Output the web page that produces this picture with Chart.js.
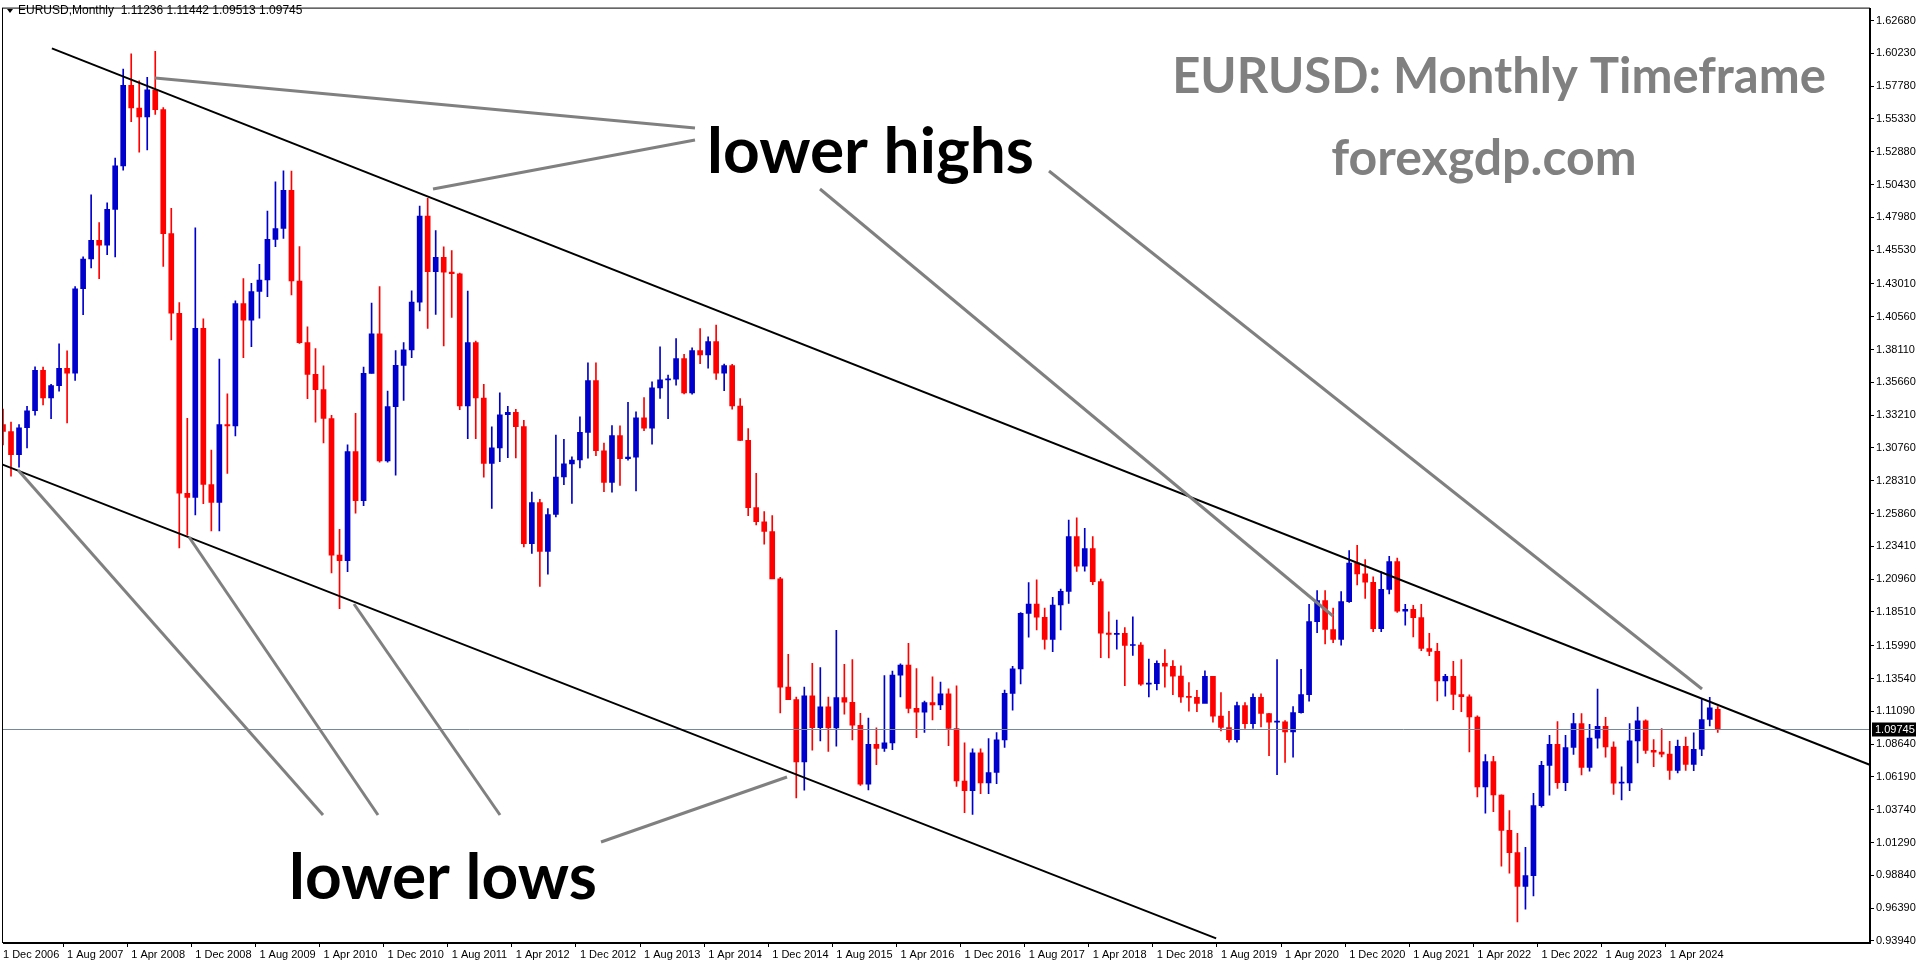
<!DOCTYPE html>
<html>
<head>
<meta charset="utf-8">
<script src="https://cdn.jsdelivr.net/npm/chart.js@4.4.1/dist/chart.umd.min.js"></script>
<style>
  html, body { margin: 0; padding: 0; background: #fff; }
  #wrap { width: 1916px; height: 964px; position: relative; }
</style>
</head>
<body>
<div id="wrap"><canvas id="chart"></canvas></div>
<script>
// monthly candles, 1 Dec 2006 .. 1 Oct 2024
const opens = [
  1.3250,
  1.3199,1.3025,1.3227,1.3354,1.3656,1.3449,1.3542,1.3670,1.3634,1.4265,1.4487,1.4627,
  1.4590,1.4858,1.5183,1.5784,1.5615,1.5548,1.5750,1.5603,1.4676,1.4082,1.2738,1.2707,
  1.3970,1.2803,1.2669,1.3250,1.3240,1.4155,1.4030,1.4244,1.4330,1.4634,1.4715,1.5000,
  1.4323,1.3862,1.3625,1.3512,1.3296,1.2276,1.2235,1.3048,1.2682,1.3633,1.3928,1.2980,
  1.3384,1.3693,1.3808,1.4165,1.4807,1.4393,1.4500,1.4389,1.4377,1.3389,1.3863,1.3449,
  1.2960,1.3077,1.3324,1.3342,1.3235,1.2361,1.2668,1.2304,1.2579,1.2859,1.2957,1.2986,
  1.3192,1.3579,1.3055,1.2818,1.3168,1.2996,1.3008,1.3301,1.3223,1.3525,1.3584,1.3590,
  1.3743,1.3487,1.3803,1.3770,1.3870,1.3635,1.3692,1.3389,1.3132,1.2630,1.2525,1.2452,
  1.2098,1.1290,1.1196,1.0731,1.1224,1.0987,1.1143,1.0985,1.1211,1.1177,1.1005,1.0565,
  1.0863,1.0832,1.0873,1.1380,1.1454,1.1131,1.1103,1.1174,1.1157,1.1240,1.0981,1.0589,
  1.0517,1.0799,1.0575,1.0652,1.0896,1.1243,1.1426,1.1841,1.1910,1.1812,1.1646,1.1903,
  1.2005,1.2414,1.2193,1.2324,1.2078,1.1693,1.1684,1.1691,1.1601,1.1604,1.1312,1.1316,
  1.1467,1.1446,1.1372,1.1217,1.1213,1.1168,1.1370,1.1073,1.0988,1.0897,1.1152,1.1017,
  1.1213,1.1093,1.1028,1.1030,1.0955,1.1100,1.1234,1.1779,1.1936,1.1720,1.1647,1.1928,
  1.2216,1.2136,1.2073,1.1727,1.2020,1.2227,1.1858,1.1870,1.1809,1.1578,1.1557,1.1337,
  1.1370,1.1235,1.1218,1.1067,1.0545,1.0733,1.0484,1.0220,1.0054,0.9802,0.9882,1.0405,
  1.0705,1.0863,1.0576,1.0839,1.1018,1.0690,1.0909,1.0998,1.0843,1.0573,1.0575,1.0888,
  1.1039,1.0818,1.0805,1.0790,1.0667,1.0848,1.0713,1.0826,1.1048,1.1124
];
const highs = [
  1.3367,
  1.3270,1.3250,1.3387,1.3682,1.3680,1.3551,1.3853,1.3802,1.4282,1.4504,1.4967,1.4759,
  1.4907,1.5240,1.5905,1.6019,1.5818,1.5843,1.6038,1.5618,1.4866,1.4162,1.3298,1.4720,
  1.4040,1.3060,1.3739,1.3480,1.4175,1.4340,1.4306,1.4447,1.4844,1.5063,1.5145,1.5144,
  1.4580,1.3980,1.3818,1.3690,1.3320,1.2468,1.3100,1.3335,1.3680,1.4157,1.4282,1.3500,
  1.3803,1.3862,1.4249,1.4882,1.4940,1.4700,1.4578,1.4550,1.4381,1.4248,1.3874,1.3551,
  1.3234,1.3487,1.3386,1.3364,1.3283,1.2747,1.2692,1.2624,1.3172,1.3140,1.3010,1.3308,
  1.3711,1.3711,1.3113,1.3243,1.3242,1.3416,1.3346,1.3452,1.3569,1.3832,1.3620,1.3893,
  1.3775,1.3824,1.3967,1.3906,1.3993,1.3703,1.3700,1.3444,1.3220,1.2887,1.2600,1.2570,
  1.2110,1.1534,1.1216,1.1290,1.1467,1.1436,1.1216,1.1714,1.1460,1.1495,1.1094,1.1059,
  1.0985,1.1376,1.1410,1.1464,1.1616,1.1428,1.1186,1.1366,1.1327,1.1278,1.1299,1.0874,
  1.0829,1.0829,1.0906,1.0950,1.1268,1.1445,1.1846,1.2070,1.2092,1.1880,1.1961,1.2022,
  1.2537,1.2555,1.2476,1.2414,1.2097,1.1852,1.1791,1.1734,1.1815,1.1622,1.1500,1.1486,
  1.1570,1.1489,1.1448,1.1324,1.1265,1.1412,1.1370,1.1250,1.1110,1.1179,1.1175,1.1240,
  1.1239,1.1095,1.1495,1.1040,1.1145,1.1422,1.1909,1.2011,1.2011,1.1881,1.2003,1.2310,
  1.2349,1.2243,1.2113,1.2150,1.2266,1.2254,1.1909,1.1900,1.1909,1.1692,1.1616,1.1386,
  1.1482,1.1495,1.1233,1.1076,1.0787,1.0773,1.0486,1.0368,1.0198,1.0094,1.0497,1.0736,
  1.0929,1.1033,1.0930,1.1095,1.1092,1.1012,1.1276,1.1065,1.0882,1.0695,1.1017,1.1140,
  1.1046,1.0898,1.0981,1.0885,1.0895,1.0916,1.0948,1.1202,1.1214,1.1144
];
const lows = [
  1.3099,
  1.2866,1.2932,1.3076,1.3320,1.3398,1.3294,1.3500,1.3262,1.3580,1.4072,1.4420,1.4340,
  1.4520,1.4502,1.5150,1.5512,1.5285,1.5302,1.5567,1.4432,1.3883,1.2329,1.2424,1.2575,
  1.2660,1.2456,1.2456,1.2885,1.3165,1.3750,1.3833,1.4046,1.4205,1.4580,1.4640,1.4219,
  1.3857,1.3444,1.3268,1.3113,1.2143,1.1876,1.2152,1.2588,1.2645,1.3635,1.2969,1.2970,
  1.2873,1.3430,1.3750,1.4100,1.3968,1.4073,1.3838,1.4050,1.3362,1.3146,1.3146,1.2858,
  1.2624,1.2974,1.3003,1.3002,1.2336,1.2288,1.2042,1.2134,1.2561,1.2802,1.2661,1.2927,
  1.3000,1.3019,1.2750,1.2745,1.2796,1.2984,1.2755,1.3205,1.3105,1.3445,1.3295,1.3545,
  1.3479,1.3477,1.3705,1.3672,1.3588,1.3503,1.3366,1.3130,1.2571,1.2501,1.2358,1.2101,
  1.1098,1.1262,1.0462,1.0520,1.0819,1.0889,1.0809,1.0848,1.1087,1.0896,1.0556,1.0523,
  1.0711,1.0809,1.0822,1.1216,1.1098,1.0912,1.0952,1.1045,1.1122,1.0852,1.0548,1.0352,
  1.0340,1.0494,1.0494,1.0569,1.0839,1.1118,1.1313,1.1662,1.1717,1.1574,1.1554,1.1717,
  1.1915,1.2153,1.2155,1.2055,1.1510,1.1508,1.1573,1.1301,1.1526,1.1302,1.1216,1.1269,
  1.1289,1.1234,1.1176,1.1110,1.1107,1.1181,1.1028,1.0963,1.0879,1.0879,1.0981,1.0982,
  1.0992,1.0778,1.0636,1.0727,1.0767,1.1096,1.1185,1.1696,1.1612,1.1622,1.1603,1.1923,
  1.2054,1.1952,1.1704,1.1704,1.1986,1.1847,1.1752,1.1664,1.1563,1.1524,1.1186,1.1222,
  1.1121,1.1106,1.0806,1.0470,1.0349,1.0359,0.9952,0.9901,0.9536,0.9632,0.9730,1.0393,
  1.0483,1.0533,1.0516,1.0788,1.0635,1.0662,1.0834,1.0766,1.0488,1.0448,1.0517,1.0723,
  1.0795,1.0695,1.0768,1.0601,1.0650,1.0668,1.0666,1.0778,1.1001,1.0951
];
const closes = [
  1.3199,
  1.3025,1.3227,1.3354,1.3656,1.3449,1.3542,1.3670,1.3634,1.4265,1.4487,1.4627,1.4590,
  1.4858,1.5183,1.5784,1.5615,1.5548,1.5750,1.5603,1.4676,1.4082,1.2738,1.2707,1.3970,
  1.2803,1.2669,1.3250,1.3240,1.4155,1.4030,1.4244,1.4330,1.4634,1.4715,1.5000,1.4323,
  1.3862,1.3625,1.3512,1.3296,1.2276,1.2235,1.3048,1.2682,1.3633,1.3928,1.2980,1.3384,
  1.3693,1.3808,1.4165,1.4807,1.4393,1.4500,1.4389,1.4377,1.3389,1.3863,1.3449,1.2960,
  1.3077,1.3324,1.3342,1.3235,1.2361,1.2668,1.2304,1.2579,1.2859,1.2957,1.2986,1.3192,
  1.3579,1.3055,1.2818,1.3168,1.2996,1.3008,1.3301,1.3223,1.3525,1.3584,1.3590,1.3743,
  1.3487,1.3803,1.3770,1.3870,1.3635,1.3692,1.3389,1.3132,1.2630,1.2525,1.2452,1.2098,
  1.1290,1.1196,1.0731,1.1224,1.0987,1.1143,1.0985,1.1211,1.1177,1.1005,1.0565,1.0863,
  1.0832,1.0873,1.1380,1.1454,1.1131,1.1103,1.1174,1.1157,1.1240,1.0981,1.0589,1.0517,
  1.0799,1.0575,1.0652,1.0896,1.1243,1.1426,1.1841,1.1910,1.1812,1.1646,1.1903,1.2005,
  1.2414,1.2193,1.2324,1.2078,1.1693,1.1684,1.1691,1.1601,1.1604,1.1312,1.1316,1.1467,
  1.1446,1.1372,1.1217,1.1213,1.1168,1.1370,1.1073,1.0988,1.0897,1.1152,1.1017,1.1213,
  1.1093,1.1028,1.1030,1.0955,1.1100,1.1234,1.1779,1.1936,1.1720,1.1647,1.1928,1.2216,
  1.2136,1.2073,1.1727,1.2020,1.2227,1.1858,1.1870,1.1809,1.1578,1.1557,1.1337,1.1370,
  1.1235,1.1218,1.1067,1.0545,1.0733,1.0484,1.0220,1.0054,0.9802,0.9882,1.0405,1.0705,
  1.0863,1.0576,1.0839,1.1018,1.0690,1.0909,1.0998,1.0843,1.0573,1.0575,1.0888,1.1039,
  1.0818,1.0805,1.0790,1.0667,1.0848,1.0713,1.0826,1.1048,1.1135,1.0975
];

const yTicks = [1.62680,1.60230,1.57780,1.55330,1.52880,1.50430,1.47980,1.45530,1.43010,1.40560,
  1.38110,1.35660,1.33210,1.30760,1.28310,1.25860,1.23410,1.20960,1.18510,1.15990,1.13540,
  1.11090,1.08640,1.06190,1.03740,1.01290,0.98840,0.96390,0.93940];
const lastPrice = 1.09745;

// trend lines as [index, price] pairs
const upperLine = [[6.1, 1.606], [233.4, 1.070]];
const lowerLine = [[-0.4, 1.296], [151.4, 0.9414]];

const totalSlots = 234;
const monthNames = ["Jan","Feb","Mar","Apr","May","Jun","Jul","Aug","Sep","Oct","Nov","Dec"];
const labels = [];
for (let i = 0; i < totalSlots; i++) {
  const m = (11 + i) % 12;
  const y = 2006 + Math.floor((11 + i) / 12);
  labels.push(i < opens.length ? "1 " + monthNames[m] + " " + y : "");
}

const wickData = labels.map((l, i) => i < opens.length ? [lows[i], highs[i]] : null);
const bodyData = labels.map((l, i) => i < opens.length ? [opens[i], closes[i]] : null);
const candleColors = opens.map((o, i) => closes[i] >= o ? "#0000cc" : "#ff0000");

function showTick(i) { return i % 8 === 0 && i <= 208; }

const overlay = {
  id: "overlay",
  afterDatasetsDraw(chart) {
    const ctx = chart.ctx;
    const xs = chart.scales.x, ys = chart.scales.y;
    const a = chart.chartArea;
    const px = (i) => xs.left + (i / (totalSlots - 1)) * (xs.right - xs.left);
    ctx.save();
    ctx.beginPath();
    ctx.rect(a.left, a.top, a.right - a.left, a.bottom - a.top);
    ctx.clip();

    // last price line
    ctx.strokeStyle = "#778899";
    ctx.lineWidth = 1;
    const yp = Math.round(ys.getPixelForValue(lastPrice)) + 0.5;
    ctx.beginPath(); ctx.moveTo(a.left, yp); ctx.lineTo(a.right, yp); ctx.stroke();

    // channel lines
    ctx.strokeStyle = "#000";
    ctx.lineWidth = 2;
    [upperLine, lowerLine].forEach(l => {
      ctx.beginPath();
      ctx.moveTo(px(l[0][0]), ys.getPixelForValue(l[0][1]));
      ctx.lineTo(px(l[1][0]), ys.getPixelForValue(l[1][1]));
      ctx.stroke();
    });

    // pointer lines
    ctx.strokeStyle = "#808080";
    ctx.lineWidth = 3;
    const pointers = [
      [155,78,695,128],[433,189,695,140],[820,189,1333,616],[1049,171,1702,689],
      [18,470,323,815],[189,537,378,815],[354,604,500,815],[601,842,787,777]
    ];
    pointers.forEach(p => {
      ctx.beginPath(); ctx.moveTo(p[0], p[1]); ctx.lineTo(p[2], p[3]); ctx.stroke();
    });
    ctx.restore();

    // big texts
    ctx.save();
    ctx.textBaseline = "middle";
    ctx.textAlign = "left";
    ctx.fillStyle = "#000";
    ctx.font = "bold 64px Lato";
    ctx.fillText("lower highs", 707, 152);
    ctx.fillText("lower lows", 289, 878);
    ctx.fillStyle = "#808080";
    ctx.textAlign = "center";
    ctx.font = "bold 49px Lato";
    ctx.fillText("EURUSD: Monthly Timeframe", 1499, 77);
    ctx.font = "bold 50px Lato";
    ctx.fillText("forexgdp.com", 1484, 159);

    // header
    ctx.textAlign = "left";
    ctx.fillStyle = "#000";
    ctx.font = "12px 'Liberation Sans'";
    ctx.beginPath(); ctx.moveTo(7, 9); ctx.lineTo(13, 9); ctx.lineTo(10, 13); ctx.fill();
    ctx.fillText("EURUSD,Monthly  1.11236 1.11442 1.09513 1.09745", 18, 11);

    // frame
    ctx.strokeStyle = "#000";
    ctx.lineWidth = 1;
    ctx.strokeRect(a.left - 0.5, a.top - 0.5, a.right - a.left, a.bottom - a.top);

    // last price tag
    ctx.font = "11px 'Liberation Sans'";
    ctx.fillStyle = "#000";
    ctx.fillRect(a.right + 2, yp - 7, 44, 14);
    ctx.fillStyle = "#fff";
    ctx.fillText(lastPrice.toFixed(5), a.right + 5, yp);
    ctx.restore();
  }
};

new Chart(document.getElementById("chart"), {
  type: "bar",
  data: {
    labels: labels,
    datasets: [
      {
        data: wickData,
        backgroundColor: candleColors,
        barThickness: 1,
        grouped: false,
        order: 2
      },
      {
        data: bodyData,
        backgroundColor: candleColors,
        barThickness: 5,
        minBarLength: 1,
        grouped: false,
        order: 1
      }
    ]
  },
  options: {
    responsive: true,
    maintainAspectRatio: false,
    animation: false,
    layout: { padding: { top: 3, left: 3, right: 0, bottom: 0 } },
    plugins: { legend: { display: false }, tooltip: { enabled: false } },
    scales: {
      x: {
        offset: false,
        grid: {
          drawOnChartArea: false,
          tickLength: 4,
          color: (c) => showTick(c.index) ? "#000" : "rgba(0,0,0,0)"
        },
        border: { color: "#000" },
        ticks: {
          autoSkip: false,
          maxRotation: 0,
          align: "start",
          padding: 1,
          color: "#000",
          font: { family: "Liberation Sans", size: 11 },
          callback: function (v, i) { return showTick(i) ? labels[i] : ""; }
        },
        afterFit(s) { s.height = 21; }
      },
      y: {
        position: "right",
        min: 0.9379,
        max: 1.6357,
        grid: { drawOnChartArea: false, tickLength: 4, color: "#000" },
        border: { color: "#000" },
        afterBuildTicks(s) { s.ticks = yTicks.map(v => ({ value: v })); },
        ticks: {
          padding: 2,
          color: "#000",
          font: { family: "Liberation Sans", size: 11 },
          callback: (v) => Number(v).toFixed(5)
        },
        afterFit(s) { s.width = 46; }
      }
    }
  },
  plugins: [overlay]
});
</script>
</body>
</html>
